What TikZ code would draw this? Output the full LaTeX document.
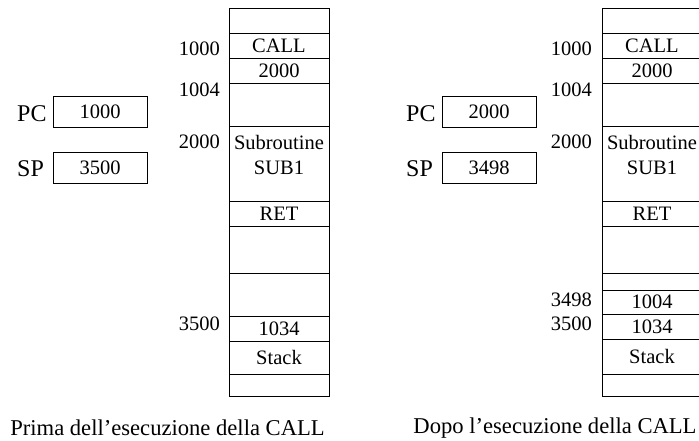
\documentclass[tikz,border=0pt]{standalone}
\usepackage{fontspec}
\setmainfont{Liberation Serif}
\begin{document}
\begin{tikzpicture}[x=1pt,y=-1pt,
  font=\fontsize{20.5}{25}\selectfont,
  cell/.style={draw,line width=.9pt,minimum width=100pt,inner sep=0pt},
  reg/.style={draw,line width=.9pt,minimum width=94pt,minimum height=31pt,inner sep=0pt},
  addr/.style={anchor=east,inner sep=0pt},
  big/.style={font=\fontsize{24}{28}\selectfont,inner sep=0pt},
  caption/.style={font=\fontsize{22.6}{26}\selectfont,inner sep=0pt}]
  \useasboundingbox (0,0) rectangle (699,441);
  \foreach \t/\b/\txt [count=\i] in {8/33/{},33/58/CALL,58/83/2000,83/126/{},126/201/{},201/226/RET,
      226/273/{},273/316/{},316/341/1034,341/374/Stack,374/396/{}}
    \node[cell,minimum height={(\b-\t)*1pt}] (ma\i) at (279,{(\t+\b)/2}) {\txt};
  \node[align=center] (suba) at (279,155) {Subroutine\\SUB1};
  \node[addr] (a1000a) at (220,48.5) {1000};
  \node[addr] (a1004a) at (220,90) {1004};
  \node[addr] (a2000a) at (220,141.5) {2000};
  \node[addr] (a3500a) at (220,324) {3500};
  \node[reg] (pca) at (100,111.5) {1000};
  \node[reg] (spa) at (100,167.5) {3500};
  \node[big,anchor=west] (pcla) at (17,113.5) {PC};
  \node[big,anchor=west] (spla) at (17,168.5) {SP};
  \node[caption] (capa) at (167.5,428) {Prima dell'esecuzione della CALL};

  \foreach \t/\b/\txt [count=\i] in {8/33/{},33/58/CALL,58/83/2000,83/126/{},126/201/{},201/226/RET,
      226/273/{},273/290/{},290/314/1004,314/339/1034,339/374/Stack,374/396/{}}
    \node[cell,minimum height={(\b-\t)*1pt}] (mb\i) at (652,{(\t+\b)/2}) {\txt};
  \node[align=center] (subb) at (652,155) {Subroutine\\SUB1};
  \node[addr] (a1000b) at (592,48.5) {1000};
  \node[addr] (a1004b) at (592,90) {1004};
  \node[addr] (a2000b) at (592,141.5) {2000};
  \node[addr] (a3498b) at (592,300) {3498};
  \node[addr] (a3500b) at (592,323.5) {3500};
  \node[reg] (pcb) at (489,111.5) {2000};
  \node[reg] (spb) at (489,167.5) {3498};
  \node[big,anchor=west] (pclb) at (406,113.5) {PC};
  \node[big,anchor=west] (splb) at (406,168.5) {SP};
  \node[caption] (capb) at (555,428) {Dopo l'esecuzione della CALL};
\end{tikzpicture}
\end{document}
